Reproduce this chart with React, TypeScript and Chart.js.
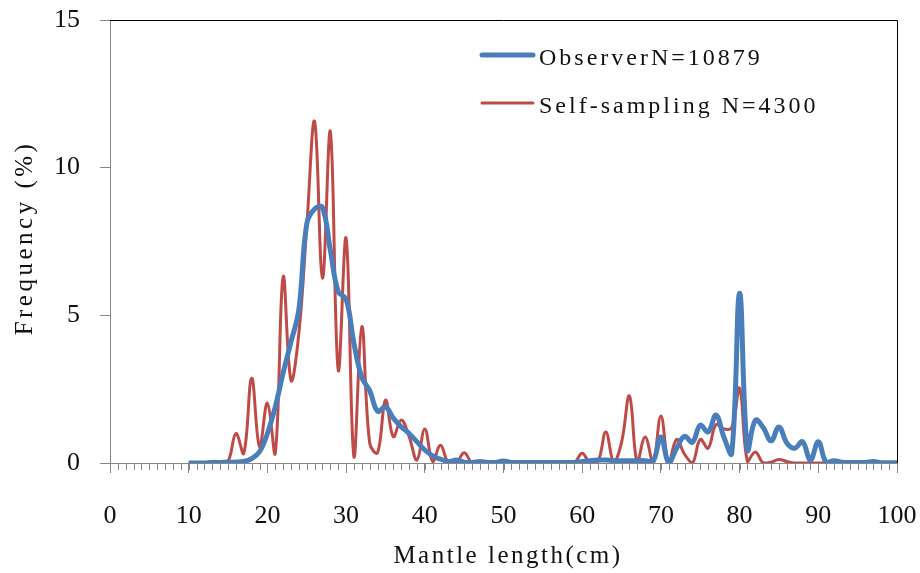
import { useEffect, useRef } from "react";
import { Chart, registerables } from "chart.js";

Chart.register(...registerables);

// Mantle length classes (cm)
const lengthsCm = [
  10, 11, 12, 13, 14, 15, 16, 17, 18, 19,
  20, 21, 22, 23, 24, 25, 26, 27, 28, 29,
  30, 31, 32, 33, 34, 35, 36, 37, 38, 39,
  40, 41, 42, 43, 44, 45, 46, 47, 48, 49,
  50, 51, 52, 53, 54, 55, 56, 57, 58, 59,
  60, 61, 62, 63, 64, 65, 66, 67, 68, 69,
  70, 71, 72, 73, 74, 75, 76, 77, 78, 79,
  80, 81, 82, 83, 84, 85, 86, 87, 88, 89,
  90, 91, 92, 93, 94, 95, 96, 97, 98, 99,
  100,
];

// Frequency (%) — observer data, N = 10879
const observerFreq = [
  0, 0, 0, 0.02, 0.02, 0.03, 0.03, 0.05, 0.15, 0.38,
  1.0, 1.9, 3.05, 4.1, 5.2, 8.1, 8.6, 8.65, 7.2, 5.8,
  5.55, 4.05, 2.9, 2.45, 1.75, 1.9, 1.52, 1.23, 1.0, 0.72,
  0.44, 0.24, 0.13, 0.05, 0.1, 0.03, 0.02, 0.05, 0.02, 0.02,
  0.07, 0.02, 0.02, 0.02, 0.02, 0.02, 0.02, 0.02, 0.02, 0.02,
  0.05, 0.08, 0.1, 0.1, 0.08, 0.08, 0.08, 0.08, 0.08, 0.05,
  0.88, 0.0, 0.5, 0.9, 0.7, 1.28, 1.05, 1.62, 0.88, 0.33,
  5.75, 0.45, 1.45, 1.2, 0.75, 1.22, 0.68, 0.5, 0.72, 0.1,
  0.72, 0.02, 0.08, 0.03, 0.02, 0.02, 0.02, 0.05, 0.01, 0.01,
  0.01,
];

// Frequency (%) — self-sampling data, N = 4300
const selfSamplingFreq = [
  0, 0, 0, 0.05, 0, 0.05, 1.0, 0.33, 2.87, 0.55,
  2.03, 0.33, 6.3, 2.8, 4.4, 8.0, 11.56, 6.26, 11.22, 3.15,
  7.61, 0.2, 4.62, 0.67, 0.35, 2.13, 0.89, 1.46, 0.9, 0.1,
  1.15, 0.05, 0.6, 0, 0, 0.35, 0, 0, 0.05, 0,
  0, 0, 0, 0, 0, 0, 0, 0, 0, 0,
  0.33, 0, 0.05, 1.05, 0.05, 0.7, 2.27, 0, 0.88, 0,
  1.59, 0, 0.8, 0.3, 0, 0.8, 0.5, 1.3, 1.15, 1.2,
  2.53, 0.05, 0.37, 0, 0.03, 0.12, 0.05, 0, 0, 0,
  0, 0, 0, 0, 0, 0, 0, 0, 0, 0,
  0,
];

const seriesLabels = ["ObserverN=10879", "Self-sampling N=4300"];
const seriesColors = ["#4A7EBB", "#BE4B48"];
const xTitle = "Mantle length(cm)";
const yTitle = "Frequency (%)";

const FONT = "'Liberation Serif', 'DejaVu Serif', serif";
const TEXT = "#111";

const decorPlugin = {
  id: "decor",
  afterDraw(chart: any) {
    const { ctx, chartArea: a, scales } = chart;
    const xs = scales.x;
    ctx.save();

    // plot frame: top and right edges
    ctx.strokeStyle = "#000";
    ctx.lineWidth = 1;
    ctx.beginPath();
    ctx.moveTo(a.left, a.top + 0.5);
    ctx.lineTo(a.right + 0.5, a.top + 0.5);
    ctx.lineTo(a.right + 0.5, a.bottom);
    ctx.stroke();

    // minor ticks every 1 cm below the x axis
    ctx.strokeStyle = "#868686";
    ctx.beginPath();
    for (let v = xs.min; v <= xs.max; v += 1) {
      const px = Math.round(xs.getPixelForValue(v)) + 0.5;
      ctx.moveTo(px, a.bottom);
      ctx.lineTo(px, a.bottom + 7);
    }
    ctx.stroke();

    // legend inside the plot area
    const lx0 = 482;
    const lx1 = 533;
    const rows = [
      { y: 55, w: 5 },
      { y: 103, w: 3 },
    ];
    ctx.font = `24px ${FONT}`;
    ctx.fillStyle = TEXT;
    ctx.textBaseline = "middle";
    ctx.textAlign = "left";
    (ctx as any).letterSpacing = "3px";
    rows.forEach((r, i) => {
      ctx.strokeStyle = seriesColors[i];
      ctx.lineWidth = r.w;
      ctx.lineCap = "round";
      ctx.beginPath();
      ctx.moveTo(lx0, r.y);
      ctx.lineTo(lx1, r.y);
      ctx.stroke();
      ctx.fillText(seriesLabels[i], 539, r.y + 4);
    });

    // axis titles
    ctx.font = `25px ${FONT}`;
    ctx.textAlign = "center";
    (ctx as any).letterSpacing = "2.5px";
    ctx.fillText(xTitle, 508, 556);
    (ctx as any).letterSpacing = "3.5px";
    ctx.translate(25, 238);
    ctx.rotate(-Math.PI / 2);
    ctx.fillText(yTitle, 0, 0);

    ctx.restore();
  },
};

export default function App() {
  const canvasRef = useRef<HTMLCanvasElement | null>(null);

  useEffect(() => {
    const canvas = canvasRef.current;
    if (!canvas) return;
    const chart = new Chart(canvas, {
      type: "line",
      data: {
        datasets: [
          {
            label: seriesLabels[0],
            data: lengthsCm.map((x, i) => ({ x, y: observerFreq[i] })),
            borderColor: seriesColors[0],
            borderWidth: 5,
            pointRadius: 0,
            tension: 0.4,
            fill: false,
          },
          {
            label: seriesLabels[1],
            data: lengthsCm.map((x, i) => ({ x, y: selfSamplingFreq[i] })),
            borderColor: seriesColors[1],
            borderWidth: 3,
            pointRadius: 0,
            tension: 0.4,
            fill: false,
          },
        ],
      },
      options: {
        responsive: false,
        animation: false,
        layout: { padding: { top: 20, right: 23, left: 0, bottom: 0 } },
        plugins: {
          legend: { display: false },
          tooltip: { enabled: false },
          title: { display: false },
        },
        scales: {
          x: {
            type: "linear",
            min: 0,
            max: 100,
            afterFit: (s: any) => {
              s.height = 110;
              s.paddingLeft = 0;
              s.paddingRight = 0;
            },
            border: { color: "#868686", width: 1 },
            grid: {
              drawOnChartArea: false,
              drawTicks: true,
              tickLength: 10,
              color: "#868686",
            },
            ticks: {
              stepSize: 10,
              padding: 28,
              maxRotation: 0,
              color: TEXT,
              font: { family: FONT, size: 26 },
            },
          },
          y: {
            min: 0,
            max: 15,
            afterFit: (s: any) => {
              s.width = 110;
              s.paddingTop = 0;
              s.paddingBottom = 0;
            },
            border: { color: "#868686", width: 1 },
            grid: {
              drawOnChartArea: false,
              drawTicks: true,
              tickLength: 10,
              color: "#868686",
            },
            ticks: {
              stepSize: 5,
              padding: 20,
              color: TEXT,
              font: { family: FONT, size: 26 },
            },
          },
        },
      },
      plugins: [decorPlugin],
    });
    return () => chart.destroy();
  }, []);

  return (
    <div style={{ position: "absolute", left: 0, top: 0, width: 920, height: 573, background: "#fff" }}>
      <canvas ref={canvasRef} width={920} height={573} />
    </div>
  );
}
